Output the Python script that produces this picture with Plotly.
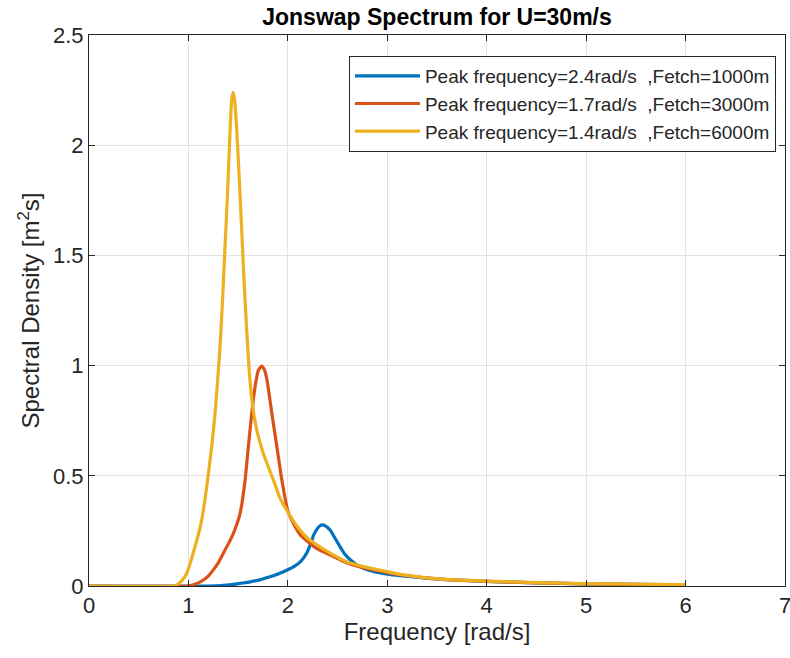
import plotly.graph_objects as go

# Series 1: peak 2.4 rad/s, fetch 1000 m
x_blue = [0, 1.2, 1.42, 1.52, 1.62, 1.72, 1.79, 1.86, 1.92, 2.0, 2.06, 2.13, 2.19, 2.23, 2.26, 2.29,
          2.32, 2.35, 2.38, 2.425, 2.47, 2.525, 2.57, 2.63, 2.69, 2.76, 2.86, 3.0, 3.13, 3.53,
          4.0, 4.5, 5.0, 5.5, 6.0]
y_blue = [0, 0, 0.005, 0.012, 0.019, 0.028, 0.038, 0.048, 0.058, 0.074, 0.088, 0.112, 0.150, 0.192, 0.232, 0.256,
          0.272, 0.277, 0.272, 0.254, 0.220, 0.178, 0.146, 0.118, 0.097, 0.081, 0.066, 0.054, 0.047, 0.031,
          0.021, 0.014, 0.010, 0.007, 0.005]

# Series 2: peak 1.7 rad/s, fetch 3000 m
x_red = [0, 1.0, 1.05, 1.1, 1.15, 1.2, 1.25, 1.3, 1.35, 1.4, 1.45, 1.52, 1.57, 1.60, 1.637, 1.67, 1.704,
         1.737, 1.765, 1.79, 1.84, 1.89, 1.94, 2.0, 2.06, 2.12, 2.19, 2.26, 2.32, 2.43, 2.59, 2.76,
         3.0, 3.13, 3.53, 4.0, 4.5, 5.0, 5.5, 6.0]
y_red = [0, 0, 0.006, 0.014, 0.027, 0.045, 0.073, 0.105, 0.148, 0.190, 0.237, 0.330, 0.480, 0.620, 0.784, 0.904, 0.980,
         0.998, 0.980, 0.935, 0.780, 0.630, 0.480, 0.340, 0.280, 0.235, 0.205, 0.180, 0.163, 0.140, 0.106, 0.083,
         0.061, 0.051, 0.031, 0.021, 0.014, 0.010, 0.007, 0.005]

# Series 3: peak 1.4 rad/s, fetch 6000 m
x_yel = [0, 0.85, 0.882, 0.93, 0.983, 1.066, 1.134, 1.184, 1.234, 1.268, 1.294, 1.318, 1.345, 1.368, 1.392,
         1.412, 1.435, 1.45, 1.466, 1.486, 1.512, 1.536, 1.559, 1.586, 1.613, 1.647, 1.687, 1.754, 1.855,
         1.92, 2.0, 2.09, 2.19, 2.26, 2.43, 2.59, 2.76, 3.0, 3.13, 3.53, 4.0, 4.5, 5.0, 5.5, 6.0]
y_yel = [0, 0, 0.005, 0.022, 0.058, 0.178, 0.300, 0.450, 0.632, 0.784, 0.935, 1.086, 1.313, 1.540, 1.766,
         1.993, 2.205, 2.240, 2.200, 2.069, 1.842, 1.615, 1.388, 1.162, 0.965, 0.814, 0.708, 0.600, 0.480,
         0.400, 0.335, 0.272, 0.220, 0.196, 0.148, 0.110, 0.088, 0.065, 0.053, 0.032, 0.022, 0.015, 0.011, 0.008, 0.006]

names = ["Peak frequency=2.4rad/s\u00a0\u00a0,Fetch=1000m",
         "Peak frequency=1.7rad/s\u00a0\u00a0,Fetch=3000m",
         "Peak frequency=1.4rad/s\u00a0\u00a0,Fetch=6000m"]
colors = ["#0072BD", "#D95319", "#EDB120"]

x_ticks = [0, 1, 2, 3, 4, 5, 6, 7]
y_ticks = [0, 0.5, 1, 1.5, 2, 2.5]
y_tick_text = ["0", "0.5", "1", "1.5", "2", "2.5"]

FONT = "Liberation Sans, Arial, sans-serif"

fig = go.Figure()
for xs, ys, nm, c in zip([x_blue, x_red, x_yel], [y_blue, y_red, y_yel], names, colors):
    fig.add_trace(go.Scatter(x=xs, y=ys, mode="lines", name=nm,
                             line=dict(color=c, width=3.2, shape="spline", smoothing=0.5)))

axis_common = dict(showline=True, linecolor="#262626", linewidth=1, mirror="ticks",
                   ticks="inside", ticklen=6, tickcolor="#262626",
                   showgrid=True, gridcolor="#e3e3e3", gridwidth=1, zeroline=False,
                   ticklabeloverflow="allow", automargin=False,
                   tickfont=dict(family=FONT, size=22, color="#262626"))

fig.update_xaxes(range=[0, 7], tickvals=x_ticks, **axis_common,
                 title=dict(text="Frequency [rad/s]", standoff=4,
                            font=dict(family=FONT, size=24, color="#262626")))
fig.update_yaxes(range=[0, 2.5], tickvals=y_ticks, ticktext=y_tick_text, **axis_common,
                 title=dict(text="Spectral Density [m<sup>2</sup>s]", standoff=6,
                            font=dict(family=FONT, size=24, color="#262626")))

fig.update_layout(
    width=790, height=658,
    margin=dict(l=89, r=5, t=35, b=72, autoexpand=False),
    paper_bgcolor="white", plot_bgcolor="white",
    title=dict(text="<b>Jonswap Spectrum for U=30m/s</b>", x=(89 + 785) / 2 / 790, xanchor="center",
               y=1 - 17 / 658, yanchor="middle",
               font=dict(family=FONT, size=23, color="black")),
    legend=dict(x=0.987, y=0.962, xanchor="right", yanchor="top",
                bgcolor="white", bordercolor="#262626", borderwidth=1,
                font=dict(family=FONT, size=19, color="#262626"),
                tracegroupgap=0, itemwidth=65),
    showlegend=True,
)

fig.write_html("out.html")
